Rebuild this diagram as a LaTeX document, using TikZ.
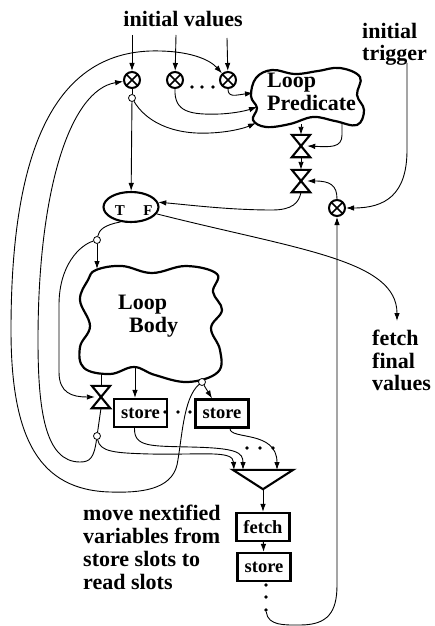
\documentclass[tikz,border=0pt]{standalone}
\usepackage{fontspec}
\setmainfont{Liberation Serif}[BoldFont={Liberation Serif Bold}]
\usetikzlibrary{arrows.meta,shapes.geometric}

\begin{document}
\begin{tikzpicture}[x=1pt,y=-1pt,
  wire/.style={line width=0.9pt},
  arr/.style={wire,-{Latex[length=8pt,width=5.5pt]}},
  merge/.style={circle,draw,line width=2pt,minimum size=16pt,inner sep=0pt,
    path picture={\draw[line width=1.6pt]
      (path picture bounding box.south west)--(path picture bounding box.north east)
      (path picture bounding box.north west)--(path picture bounding box.south east);}},
  fork/.style={circle,draw,line width=0.8pt,fill=white,minimum size=7pt,inner sep=0pt},
  gate/.style={rectangle,minimum width=18pt,minimum height=22pt,inner sep=0pt},
  bowtie/.style={line width=2.1pt,line join=miter},
  slot/.style={rectangle,draw,line width=2.2pt,minimum width=53pt,minimum height=28pt,
    inner sep=0pt,font=\fontsize{18.5}{20}\selectfont\bfseries},
  txt/.style={font=\fontsize{22}{22.5}\selectfont\bfseries,inner sep=0pt,align=left,anchor=north west},
  cloudline/.style={line width=2.2pt,line join=round},
  edot/.style={circle,fill,inner sep=0pt,minimum size=3.6pt},
  tflab/.style={font=\fontsize{15}{15}\selectfont\bfseries,anchor=base,inner sep=0pt}
]
\useasboundingbox (0,0) rectangle (435,626);

% --- free-standing texts
\node[txt,anchor=base] (iv) at (183,27) {initial values};
\node[txt] (trig) at (362,23) {initial\\trigger};
\node[txt] (ffv) at (372,330) {fetch\\final\\values};
\node[txt,font=\fontsize{22}{23}\selectfont\bfseries] (mnv) at (83,505)
  {move nextified\\variables from\\store slots to\\read slots};

% --- loop predicate cloud
\draw[cloudline] plot[smooth cycle,tension=0.65] coordinates {
  (256,78) (272,70) (295,74) (318,71) (340,68) (360,77) (357,95) (364,110)
  (357,125) (335,121) (313,117) (290,124) (266,127) (253,120) (257,108) (251,96)};
\node[txt] (lp) at (267,73) {Loop\\Predicate};

% --- loop body cloud
\draw[cloudline] plot[smooth cycle,tension=0.65] coordinates {
  (96,270) (122,266) (152,273) (186,266) (217,274) (213,292) (222,310) (211,328)
  (220,350) (218,372) (188,382) (155,375) (134,367) (110,374) (84,368) (80,347)
  (90,326) (80,300) (88,280)};
\node[txt] (lb) at (118,295) {Loop\\\hspace*{11pt}Body};

% --- merges
\node[merge] (m1) at (132,80) {};
\node[merge] (m2) at (175,80) {};
\node[merge] (m3) at (228,80) {};
\node[merge] (m4) at (337,208) {};

% --- forks
\node[fork] (f1) at (132,98) {};
\node[fork] (f2) at (97,240) {};
\node[fork] (f3) at (202,382) {};
\node[fork] (f4) at (97,436) {};

% --- gates
\node[gate] (s1) at (301,146) {};
\node[gate] (s2) at (301,181) {};
\node[gate] (s3) at (101,397) {};
\foreach \g in {s1,s2,s3}
  \draw[bowtie] (\g.north west) -- (\g.north east) -- (\g.south west) -- (\g.south east) -- cycle;

% --- steer (T/F)
\node[ellipse,draw,line width=2.1pt,minimum width=55pt,minimum height=30pt,inner sep=0pt] (tf) at (131,207) {};
\node[tflab] (tlab) at (120,215) {T};
\node[tflab] (flab) at (148,215) {F};

% --- store / fetch slots
\node[slot] (st1) at (140.5,413) {store};
\node[slot] (st2) at (222,413.5) {store};
\node[slot] (fe) at (263,527) {fetch};
\node[slot] (st3) at (264,567) {store};

% --- mover triangle
\node[inner sep=0pt,minimum width=60pt,minimum height=19pt] (mv) at (263,479.5) {};
\draw[bowtie] (mv.north west) -- (mv.north east) -- (mv.south) -- cycle;

% --- ellipsis dots
\foreach \x in {192,202,213} \node[edot] (da\x) at (\x,87) {};
\foreach \x in {165,178,190} \node[edot] (db\x) at (\x,412) {};
\foreach \x in {247,260,273} \node[edot] (dc\x) at (\x,448) {};
\foreach \y in {585,597,610} \node[edot] (dd\y) at (266,\y) {};

% --- connector end points
\coordinate (iv a) at (132,35);
\coordinate (iv b) at (176,35);
\coordinate (iv c) at (227,38);
\coordinate (trig out) at (407,63);
\coordinate (lp a) at (253,93);
\coordinate (lp b) at (257,107);
\coordinate (lp c) at (256,123);
\coordinate (lp o1) at (301,124);
\coordinate (lp o2) at (342,123);
\coordinate (lb i) at (97,269);
\coordinate (lb o1) at (101,373);
\coordinate (lb o2) at (135,367);
\coordinate (ffv in) at (397,321);
\coordinate (mv a) at (234,470);
\coordinate (mv b) at (243,470);
\coordinate (mv c) at (277,470);

% --- connectors
\draw[arr] (iv a) -- (m1);
\draw[arr] (iv b) -- (m2);
\draw[arr] (iv c) -- (m3);
\draw[wire] (m1) -- (f1);
\draw[arr] (m3.south) .. controls (228,98) and (236,95) .. (lp a);
\draw[arr] (m2.south) .. controls (174,112) and (190,115) .. (220,114) .. controls (238,113) and (248,110) .. (lp b);
\draw[arr] (f1) .. controls (145,120) and (170,135) .. (210,133) .. controls (233,132) and (247,127) .. (lp c);
\draw[arr] (f1) -- (tf);
\draw[arr] (lp o1) -- (s1.north);
\draw[arr] (lp o2) -- (342,135) .. controls (342,148) and (330,147) .. ([xshift=-3pt]s1.east);
\draw[arr] (s1) -- (s2);
\draw[arr] (m4.north) .. controls (337,185) and (330,181) .. ([xshift=-3pt]s2.east);
\draw[arr] (trig out) -- (407,150) .. controls (407,195) and (385,208) .. (m4.east);
\draw[arr] (s2.south) .. controls (299,203) and (292,210) .. (272,210) .. controls (230,210) and (190,205) .. (tf.10);
\draw[arr] (tf.-15) .. controls (300,250) and (397,260) .. (ffv in);
\draw[wire] (tf.235) .. controls (104,225) and (99,230) .. (f2);
\draw[arr] (f2) -- (lb i);
\draw[arr] (f2) .. controls (80,245) and (59,265) .. (59,305) -- (59,372)
  .. controls (59,393) and (72,397) .. ([xshift=3pt]s3.west);
\draw[wire] (lb o1) -- (s3.north);
\draw[arr] (lb o2) -- (st1.north -| lb o2);
\draw[arr] (f3) -- ([xshift=-10pt]st2.north);
\draw[wire] (s3.south) -- (f4);
% value fed back round the outside to the last merge
\draw[arr] (f3) .. controls (183,398) and (182,440) .. (177,465)
  .. controls (171,490) and (140,493) .. (110,492)
  .. controls (40,490) and (11,440) .. (11,330)
  .. controls (11,170) and (45,55) .. (150,51)
  .. controls (190,50) and (210,60) .. (m3);
% value fed back to the first merge
\draw[arr] (f4) .. controls (94,458) and (90,462) .. (80,462)
  .. controls (45,462) and (38,410) .. (38,340)
  .. controls (38,190) and (70,90) .. (m1);
\draw[arr] (f4) .. controls (100,452) and (115,453) .. (150,454)
  .. controls (205,455) and (233,450) .. (mv a);
\draw[arr] ([xshift=-6pt]st1.south) .. controls (134,447) and (150,446) .. (190,447)
  .. controls (236,448) and (243,452) .. (mv b);
\draw[arr] ([xshift=8pt]st2.south) .. controls (230,440) and (277,430) .. (mv c);
\draw[arr] (mv.south) -- (fe.north);
\draw[arr] (fe) -- (st3);
\draw[arr] (dd610) .. controls (268,626) and (285,625) .. (300,625)
  .. controls (328,625) and (337,612) .. (337,585) -- (m4.south);
\end{tikzpicture}
\end{document}
